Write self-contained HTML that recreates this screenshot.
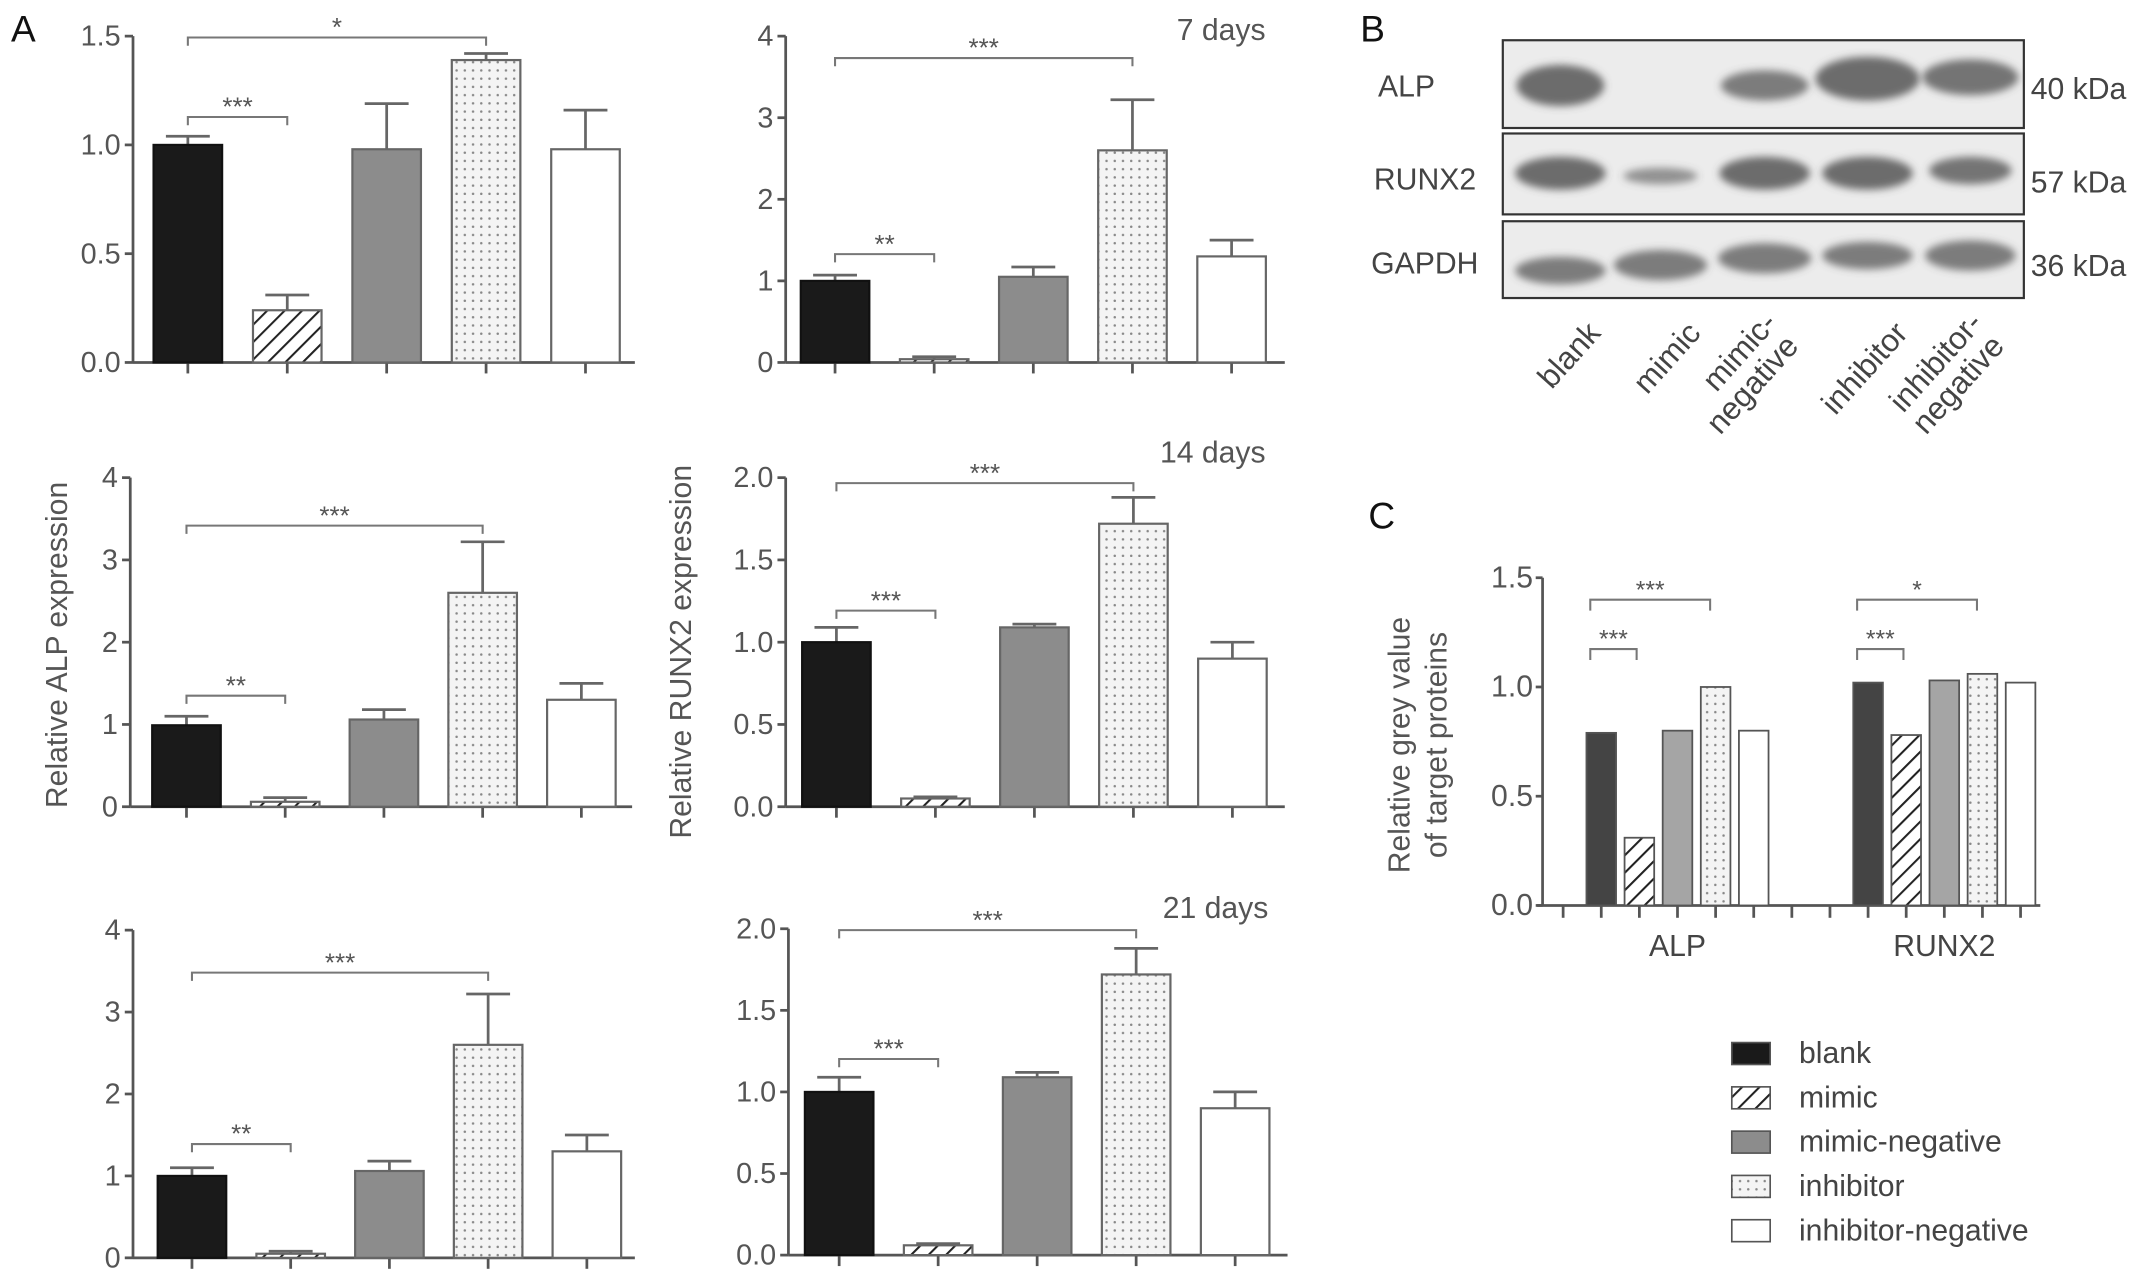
<!DOCTYPE html>
<html><head><meta charset="utf-8"><style>
html,body{margin:0;padding:0;background:#fff}
svg{display:block;font-family:"Liberation Sans",sans-serif}
</style></head><body>
<svg id="fig" width="2150" height="1283" viewBox="0 0 1568 935" xmlns="http://www.w3.org/2000/svg">
<defs>
<pattern id="hatch" width="9" height="9" patternUnits="userSpaceOnUse" patternTransform="rotate(45)"><rect width="9" height="9" fill="#fff"/><line x1="0" y1="0" x2="0" y2="9" stroke="#222" stroke-width="3"/></pattern>
<pattern id="dots" width="6" height="6" patternUnits="userSpaceOnUse"><rect width="6" height="6" fill="#f4f4f4"/><circle cx="3" cy="3" r="0.9" fill="#888"/></pattern>
<filter id="blur" x="-30%" y="-60%" width="160%" height="220%"><feGaussianBlur stdDeviation="3"/></filter>
</defs>
<g id="root"></g>
</svg>
<script>
const groups = ["blank","mimic","mimic-negative","inhibitor","inhibitor-negative"];
const fills = ["#1a1a1a","url(#hatch)","#8c8c8c","url(#dots)","#fff"];
const p1Vals = [1.0,0.24,0.98,1.39,0.98];
const p1Err = [0.04,0.07,0.21,0.03,0.18];
const p1Ticks = ["0.0","0.5","1.0","1.5"];
const p2Vals = [1.0,0.04,1.05,2.6,1.3];
const p2Err = [0.07,0.03,0.12,0.62,0.2];
const p2Ticks = ["0","1","2","3","4"];
const p3Vals = [0.99,0.06,1.06,2.6,1.3];
const p3Err = [0.11,0.05,0.12,0.62,0.2];
const p3Ticks = ["0","1","2","3","4"];
const p4Vals = [1.0,0.05,1.09,1.72,0.9];
const p4Err = [0.09,0.01,0.02,0.16,0.1];
const p4Ticks = ["0.0","0.5","1.0","1.5","2.0"];
const p5Vals = [1.0,0.05,1.06,2.6,1.3];
const p5Err = [0.1,0.03,0.12,0.62,0.2];
const p5Ticks = ["0","1","2","3","4"];
const p6Vals = [1.0,0.06,1.09,1.72,0.9];
const p6Err = [0.09,0.01,0.03,0.16,0.1];
const p6Ticks = ["0.0","0.5","1.0","1.5","2.0"];
const cCats = ["ALP","RUNX2"];
const cAlp = [0.79,0.31,0.80,1.0,0.80];
const cRunx = [1.02,0.78,1.03,1.06,1.02];
const cTicks = ["0.0","0.5","1.0","1.5"];

const NS="http://www.w3.org/2000/svg";
const root=document.getElementById('root');
function mk(tag,attrs,parent,text){const e=document.createElementNS(NS,tag);for(const k in attrs)e.setAttribute(k,attrs[k]);if(text!==undefined)e.textContent=text;(parent||root).appendChild(e);return e;}

function panel(name,vals,errs,ticks,max,ax,y0,y1,xEnd,x0c,dx,bw,sigs,title,ylabel){
  const g=mk('g',{});
  
  
  const ys=v=>y0-(v/max)*(y0-y1);
  const xs=i=>x0c+i*dx;
  const ya=mk('line',{x1:ax,y1:y1,x2:ax,y2:y0,stroke:'#555','stroke-width':2},g);
  
  const xa=mk('line',{x1:ax,y1:y0,x2:xEnd,y2:y0,stroke:'#555','stroke-width':2},g);
  
  ticks.forEach((t,i)=>{const v=max*i/(ticks.length-1);const y=ys(v);
    mk('line',{x1:ax-6,y1:y,x2:ax,y2:y,stroke:'#555','stroke-width':2},g);
    const tl=mk('text',{x:ax-9,y:y+7,'text-anchor':'end','font-size':21,fill:'#555'},g,t);
    });
  vals.forEach((v,i)=>{const x=xs(i);
    mk('line',{x1:x,y1:y0,x2:x,y2:y0+8,stroke:'#555','stroke-width':2},g);
    const e=errs[i];
    if(e>0){mk('line',{x1:x,y1:ys(v),x2:x,y2:ys(v+e),stroke:'#666','stroke-width':2},g);
      mk('line',{x1:x-bw*0.32,y1:ys(v+e),x2:x+bw*0.32,y2:ys(v+e),stroke:'#666','stroke-width':2},g);}
    const r=mk('rect',{x:x-bw/2,y:ys(v),width:bw,height:y0-ys(v),fill:fills[i],stroke:i==0?'#111':'#666','stroke-width':1.6},g);
    
  });
  sigs.forEach(s=>{const a=xs(s[0]),b=xs(s[1]),y=s[2];
    mk('path',{d:`M${a},${y+6}V${y}H${b}V${y+6}`,fill:'none',stroke:'#777','stroke-width':1.5},g);
    const st=mk('text',{x:(a+b)/2,y:y-1,'text-anchor':'middle','font-size':19,fill:'#555'},g,s[3]);
    });
  if(title){const t=mk('text',{x:xEnd-14,y:title[1],'text-anchor':'end','font-size':22,fill:'#555'},g,title[0]);
    }
  if(ylabel){const t=mk('text',{x:0,y:0,transform:`translate(${ylabel[1]},${ylabel[2]}) rotate(-90)`,'text-anchor':'middle','font-size':22,fill:'#555'},g,ylabel[0]);
    }
}
panel('panel-a-top-left',p1Vals,p1Err,p1Ticks,1.5,97,264,26,463,137,72.5,50,[[0,3,27,'*'],[0,1,85,'***']]);
panel('panel-a-7-days',p2Vals,p2Err,p2Ticks,4,573,264,26,937,609,72.3,50,[[0,3,42,'***'],[0,1,185,'**']],['7 days',29]);
panel('panel-a-mid-left',p3Vals,p3Err,p3Ticks,4,95,588,348,461,136,72,50,[[0,3,383,'***'],[0,1,507,'**']],null,['Relative ALP expression',49,470]);
panel('panel-a-14-days',p4Vals,p4Err,p4Ticks,2,573,588,348,937,610,72.2,50,[[0,3,352,'***'],[0,1,445,'***']],['14 days',337],['Relative RUNX2 expression',504,475]);
panel('panel-a-bottom-left',p5Vals,p5Err,p5Ticks,4,97,917,678,463,140,72,50,[[0,3,709,'***'],[0,1,834,'**']]);
panel('panel-a-21-days',p6Vals,p6Err,p6Ticks,2,575,915,677,939,612,72.2,50,[[0,3,678,'***'],[0,1,772,'***']],['21 days',669]);

[['A',8,30],['B',992,30],['C',998,385]].forEach(l=>{const t=mk('text',{x:l[1],y:l[2],'font-size':27,fill:'#111'},root,l[0]);
  });

const lanes=[1138,1211,1287,1362,1437];
const alpBand=[[32,15,0.85],[0,0,0],[32,11,0.75],[38,16,0.85],[35,13,0.8]];
const runxBand=[[33,12,0.85],[27,6,0.6],[33,12,0.85],[33,12,0.85],[30,10,0.8]];
const gapBand=[[33,10,0.75],[34,11,0.75],[34,11,0.75],[33,10,0.75],[33,11,0.75]];
const gapY=[197,193,188,186,186];
const rows=[['ALP',29,93,62,'40 kDa',alpBand,[62,62,62,57,56],1005],['RUNX2',97,156,130,'57 kDa',runxBand,[126,128,126,126,124],1002],['GAPDH',161,217,191,'36 kDa',gapBand,gapY,1000]];
const gb=mk('g',{});
rows.forEach(r=>{
  mk('rect',{x:1096,y:r[1],width:380,height:r[2]-r[1],fill:'#ececec',stroke:'#333','stroke-width':1.6},gb);
  r[5].forEach((b,i)=>{if(b[0]>0){const e=mk('ellipse',{cx:lanes[i],cy:r[6][i],rx:b[0],ry:b[1],fill:'#555','fill-opacity':b[2],filter:'url(#blur)'},gb);
    }});
  const t=mk('text',{x:r[7],y:r[3]+8,'font-size':22,fill:'#444'},gb,r[0]);
  
  const k=mk('text',{x:1481,y:r[3]+10,'font-size':22,fill:'#444'},gb,r[4]);
  
});
const laneLabels=[['blank'],['mimic'],['mimic-','negative'],['inhibitor'],['inhibitor-','negative']];
laneLabels.forEach((l,i)=>{const t=mk('text',{transform:`translate(${lanes[i]+20},234) rotate(-48)`,'text-anchor':'end','font-size':23,fill:'#444'},gb);
  
  l.forEach((s,j)=>mk('tspan',{x:j*-2,dy:j==0?(l.length>1?0:14):23},t,s));
  if(l.length>1)t.setAttribute('transform',`translate(${lanes[i]+10},236) rotate(-48)`);
});

(function(){
  const ax=1125,y0=660,y1=421,xEnd=1488,max=1.5,bw=21.6;
  const ys=v=>y0-(v/max)*(y0-y1);
  const tickX=i=>1140+i*27.8;
  const g=mk('g',{});
  const ya=mk('line',{x1:ax,y1:y1,x2:ax,y2:y0,stroke:'#555','stroke-width':2},g);
  
  const xa=mk('line',{x1:ax-4,y1:y0,x2:xEnd,y2:y0,stroke:'#555','stroke-width':2},g);
  
  cTicks.forEach((t,i)=>{const y=ys(max*i/(cTicks.length-1));
    mk('line',{x1:ax-5,y1:y,x2:ax,y2:y,stroke:'#555','stroke-width':2},g);
    const tl=mk('text',{x:ax-7,y:y+7,'text-anchor':'end','font-size':22,fill:'#555'},g,t);
    });
  for(let i=0;i<13;i++)mk('line',{x1:tickX(i),y1:y0,x2:tickX(i),y2:y0+9,stroke:'#555','stroke-width':2},g);
  [cAlp,cRunx].forEach((vals,gi)=>{vals.forEach((v,i)=>{const x=tickX(1+gi*7+i);
    const r=mk('rect',{x:x-bw/2,y:ys(v),width:bw,height:y0-ys(v),fill:i==0?'#444':i==2?'#a5a5a5':fills[i],stroke:'#555','stroke-width':1.3},g);
    });
    const c=mk('text',{x:tickX(3+gi*7),y:y0+37,'text-anchor':'middle','font-size':22,fill:'#444'},g,cCats[gi]);
    });
  [[1,4,437,'***'],[1,2,473,'***'],[8,11,437,'*'],[8,9,473,'***']].forEach(s=>{const a=tickX(s[0])-8,b=tickX(s[1])+(s[1]-s[0]>1?-4:-2);
    mk('path',{d:`M${a},${s[2]+8}V${s[2]}H${b}V${s[2]+8}`,fill:'none',stroke:'#777','stroke-width':1.5},g);
    const st=mk('text',{x:(a+b)/2,y:s[2]-1,'text-anchor':'middle','font-size':18,fill:'#555'},g,s[3]);
    });
  const t=mk('text',{transform:'translate(1028,543) rotate(-90)','text-anchor':'middle','font-size':22,fill:'#555'},g);
  
  mk('tspan',{x:0,dy:0},t,'Relative grey value');mk('tspan',{x:0,dy:27},t,'of target proteins');
})();

const lg=mk('g',{});
groups.forEach((n,i)=>{const y=768+i*32.3;
  const e=mk('g',{},lg);
  mk('rect',{x:1263,y:y-8,width:28,height:16,fill:fills[i],stroke:'#555','stroke-width':1.2},e);
  mk('text',{x:1312,y:y+7,'font-size':22,fill:'#444'},e,n);});
</script>
</body></html>
